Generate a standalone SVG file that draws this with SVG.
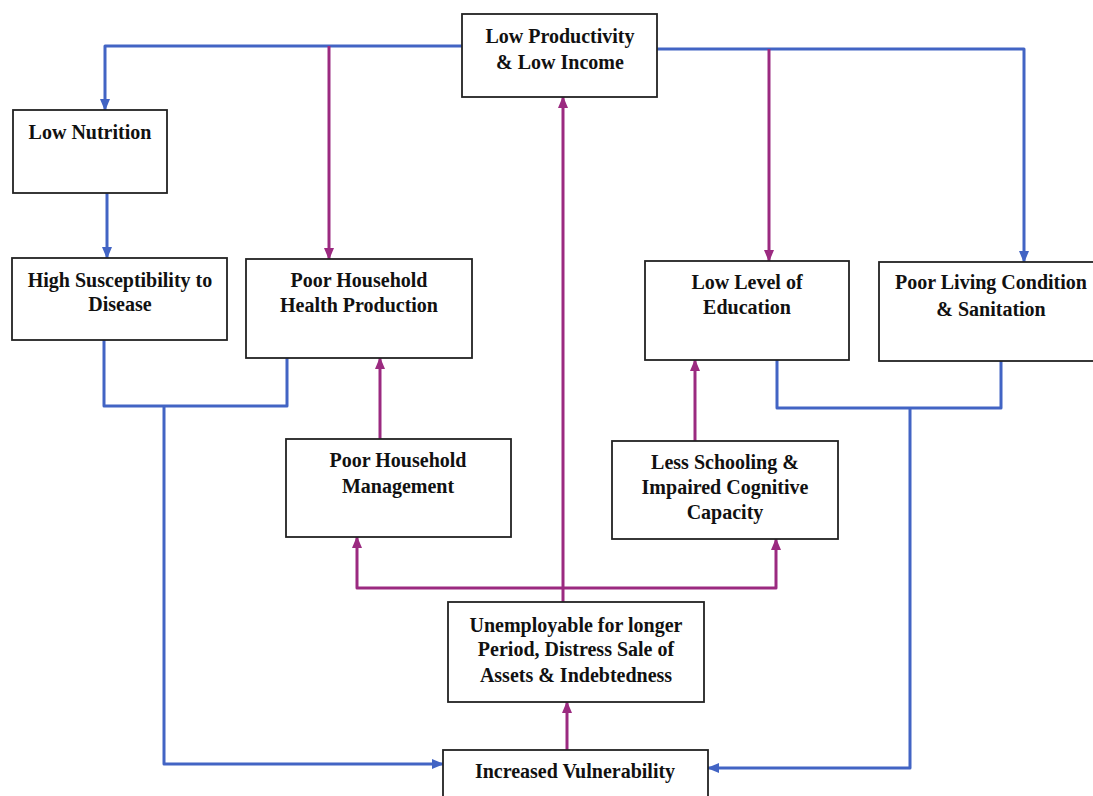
<svg xmlns="http://www.w3.org/2000/svg" width="1093" height="796" viewBox="0 0 1093 796">
<style>
.box{fill:#fff;stroke:#222;stroke-width:1.8}
.t{font-family:"Liberation Serif","Times New Roman",serif;font-weight:bold;font-size:20px;fill:#111;text-anchor:middle}
.b{fill:none;stroke:#4264c4;stroke-width:3;stroke-linejoin:round}
.m{fill:none;stroke:#9b2a80;stroke-width:3;stroke-linejoin:round}
</style>
<defs>
<marker id="ab" markerUnits="userSpaceOnUse" markerWidth="12" markerHeight="12" viewBox="0 0 12 12" refX="11" refY="6" orient="auto"><path d="M0,1 L12,6 L0,11 Z" fill="#4264c4"/></marker>
<marker id="am" markerUnits="userSpaceOnUse" markerWidth="12" markerHeight="12" viewBox="0 0 12 12" refX="11" refY="6" orient="auto"><path d="M0,1 L12,6 L0,11 Z" fill="#9b2a80"/></marker>
</defs>
<rect width="1093" height="796" fill="#fff"/>
<g id="connectors">
<path class="b" d="M462,46 H105 V110" marker-end="url(#ab)"/>
<path class="m" d="M329,46 V259" marker-end="url(#am)"/>
<path class="b" d="M657,49 H1024 V262" marker-end="url(#ab)"/>
<path class="m" d="M769,49 V261" marker-end="url(#am)"/>
<path class="b" d="M107,193 V258" marker-end="url(#ab)"/>
<path class="b" d="M104,340 V406 H287 V358"/>
<path class="b" d="M164,406 V764 H443" marker-end="url(#ab)"/>
<path class="b" d="M777,360 V408 H1001 V361"/>
<path class="b" d="M910,408 V768 H708" marker-end="url(#ab)"/>
<path class="m" d="M380,439 V358" marker-end="url(#am)"/>
<path class="m" d="M695,441 V360" marker-end="url(#am)"/>
<path class="m" d="M563,602 V97" marker-end="url(#am)"/>
<path class="m" d="M563,588 H357 V537" marker-end="url(#am)"/>
<path class="m" d="M563,588 H776 V539" marker-end="url(#am)"/>
<path class="m" d="M567,751 V702" marker-end="url(#am)"/>
</g>
<g id="n-top"><rect class="box" x="462" y="14" width="195" height="83"/><text class="t" x="560" y="43">Low Productivity</text><text class="t" x="560" y="69">&amp; Low Income</text></g>
<g id="n-nutrition"><rect class="box" x="13" y="110" width="154" height="83"/><text class="t" x="90" y="139">Low Nutrition</text></g>
<g id="n-disease"><rect class="box" x="12" y="258" width="215" height="82"/><text class="t" x="120" y="287">High Susceptibility to</text><text class="t" x="120" y="311">Disease</text></g>
<g id="n-health"><rect class="box" x="246" y="259" width="226" height="99"/><text class="t" x="359" y="287">Poor Household</text><text class="t" x="359" y="312">Health Production</text></g>
<g id="n-education"><rect class="box" x="645" y="261" width="204" height="99"/><text class="t" x="747" y="289">Low Level of</text><text class="t" x="747" y="314">Education</text></g>
<g id="n-living"><rect class="box" x="879" y="262" width="225" height="99"/><text class="t" x="991" y="289">Poor Living Condition</text><text class="t" x="991" y="316">&amp; Sanitation</text></g>
<g id="n-management"><rect class="box" x="286" y="439" width="225" height="98"/><text class="t" x="398" y="467">Poor Household</text><text class="t" x="398" y="493">Management</text></g>
<g id="n-schooling"><rect class="box" x="612" y="441" width="226" height="98"/><text class="t" x="725" y="469">Less Schooling &amp;</text><text class="t" x="725" y="494">Impaired Cognitive</text><text class="t" x="725" y="519">Capacity</text></g>
<g id="n-unemployable"><rect class="box" x="448" y="602" width="256" height="100"/><text class="t" x="576" y="632">Unemployable for longer</text><text class="t" x="576" y="656">Period, Distress Sale of</text><text class="t" x="576" y="682">Assets &amp; Indebtedness</text></g>
<g id="n-vulnerability"><rect class="box" x="443" y="750" width="265" height="60"/><text class="t" x="575" y="778">Increased Vulnerability</text></g>
</svg>
